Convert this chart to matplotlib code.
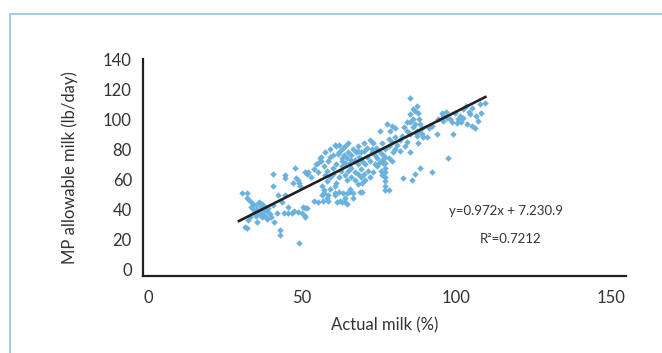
import numpy as np
import matplotlib
matplotlib.use("Agg")
import matplotlib.pyplot as plt
from matplotlib.patches import Rectangle

plt.rcParams['font.family'] = ['Lato', 'DejaVu Sans']

# actual milk (%) vs MP allowable milk (lb/day)
actual_milk = [
    # left cluster
    30.5, 32, 32, 33, 34, 33.5, 35, 35.5, 36, 36.5, 37, 37.5, 38, 38.5, 39, 34.5,
    35, 36, 37, 38, 39.5, 40, 32.5, 33, 31.5, 32, 35.4, 38.6, 41, 36, 34, 37,
    # 40-52
    40.6, 44.5, 44.5, 40.6, 42.2, 44.5, 43.5, 45.5, 40.6, 42, 44, 45.5, 46.8, 47.5,
    48.7, 50, 51, 50.3, 51.6, 51, 51, 42.9, 42.9, 49, 47.7, 48, 47, 48.7, 49.4, 49,
    51, 51.5, 52,
    # 52-62
    54, 55, 55, 55.8, 56, 57, 57.5, 58, 59, 56.5, 57, 59, 59, 60, 61.7, 59, 60.7,
    61, 62, 63, 58, 60, 61, 60, 62, 61, 60.5, 54, 55, 56.5, 56.8, 57, 58, 58.5,
    58.4, 60.7, 60.7, 61.4, 62, 62.3, 63, 64, 64, 64.6, 63.3, 64.6, 65.6, 66.6,
    66.6, 65.6, 68, 68.8, 69.5, 69.5, 54.5, 53, 56, 57.5, 58.5,
    # dense middle
    62, 63, 63.5, 64, 64.5, 65, 65, 65.5, 66, 66, 66.5, 67, 67, 67.5, 68, 68, 68.5,
    69, 69, 69.5, 70, 70, 70.5, 71, 71, 71.5, 72, 72, 72.5, 62.5, 63, 64, 64.5, 65,
    66, 67, 68, 69, 70, 70.5, 72, 73, 73, 63, 64, 66, 68,
    # 72-80
    74.4, 74.4, 75, 75.3, 73.5, 74, 75, 76, 76.3, 76, 77, 77, 77.6, 78, 78.6, 79,
    79.5, 80, 80.8, 77, 77, 77, 77, 77, 77, 77, 78, 72.5, 73.5, 76, 78, 79, 80, 78,
    80, 79, 75.5, 76,
    # 80-90
    81.8, 81.8, 82.5, 82.8, 84, 85, 85, 85.7, 86, 85, 86, 87, 87.3, 87.3, 86.7,
    87.7, 88.3, 89, 87.3, 85, 86.5, 88, 84, 85, 87.7, 89.3, 90.6, 88.3, 86.5, 83,
    84, 86, 88, 89, 83.5,
    # 90-110
    92.2, 92.2, 93.8, 95.5, 95.8, 97, 98, 95.8, 97.4, 99, 99.7, 100.3, 101.3, 102.3,
    102.3, 103, 103.6, 104.5, 105, 105, 106, 107, 107.8, 109.4, 104, 101.5, 100.5,
    98.5, 96.5, 94, 91, 106.5, 108,
]
mp_milk = [
    50.8, 51, 48, 46, 44, 42, 43, 40, 45, 42, 44, 40, 42, 39, 41, 38,
    36, 37, 35, 36, 37, 35, 33, 35, 28.4, 28, 31.7, 34, 31.7, 39, 40.5, 38,
    64, 63, 60.8, 56, 49.5, 49.5, 45, 42, 43, 37.6, 38, 37.6, 37.6, 39,
    38.3, 37.6, 41, 41.6, 41, 36, 35, 26.4, 23, 17.8, 67.4, 61, 58, 59.5, 56, 58,
    64.7, 64, 65,
    67, 65, 71, 74.6, 75, 69, 63, 59, 61.5, 56, 53, 54, 75, 76, 77, 80.6, 82.6,
    82.5, 83, 72.6, 66, 68, 70, 64, 62, 58, 56, 46, 45, 49.5, 46, 51, 47.5, 49.5,
    46, 49.5, 51, 45, 51.5, 46, 45, 47.5, 45, 44, 50.8, 51, 51.5, 51,
    48, 54, 57, 51.5, 51.5, 58, 70, 62, 72, 78, 72,
    78, 80, 76, 82, 74, 84, 78, 71, 76, 68, 80, 73, 65, 78, 70, 82, 75,
    67, 78, 72.6, 79, 84.5, 70, 81, 75, 66, 86, 72, 78, 66, 69, 63, 60, 66,
    62, 60, 64, 62, 64, 60, 62, 65, 84, 74, 71, 73, 79,
    74, 69, 79, 92.5, 76, 81, 71, 77, 70.7, 84, 80, 75, 97, 87, 92.5, 95.8,
    78, 94.5, 82.6, 71, 68, 65, 62, 59, 56, 53, 52.8, 80, 70, 73, 82, 85, 88, 74,
    80, 72, 66, 63,
    86, 79, 89, 60.8, 92.5, 103.7, 114, 59.4, 100, 98, 95, 91, 89, 109, 105.7,
    104, 97, 94.5, 92.5, 90, 97, 92, 85, 78, 84, 88, 88, 67.4, 64, 95,
    98, 107, 100, 90, 82,
    95.8, 64.7, 90.5, 104.4, 102.4, 101, 100.4, 99, 74.6, 90.5, 104.4, 97.8, 102.4, 101,
    107, 109, 97, 103.7, 107.6, 95.8, 94.5, 99, 110, 111, 105, 98, 100,
    98, 105, 100, 94, 102, 104,
]

# trend line as drawn in the picture
slope = 1.03
intercept = 2.1
x_ticks = [0, 50, 100, 150]
y_ticks = [0, 20, 40, 60, 80, 100, 120, 140]
eq_text = "y=0.972x + 7.230.9"
r2_text = "R²=0.7212"

txt = '#333333'

fig = plt.figure(figsize=(6.62, 3.53), dpi=100)
ax = fig.add_axes([143/662, 1 - 276/353, (626 - 143)/662, (276 - 59)/353])

# frame around the figure (only left and top edges visible)
fig.patches.append(Rectangle((10/662, -0.1), 1.2, 1.1 - 14/353, transform=fig.transFigure,
                             fill=False, edgecolor='#9cc5e8', linewidth=1.3))

ax.scatter(actual_milk, mp_milk, marker='D', s=11, color='#6ab2dd', linewidths=0, zorder=2)

xs = np.array([min(actual_milk) - 1, max(actual_milk)])
ax.plot(xs, slope * xs + intercept, color='#231f20', linewidth=1.9, zorder=3)

ax.set_xlim(-1.6, 155)
ax.set_ylim(-4, 140)
ax.set_xticks(x_ticks)
ax.set_yticks(y_ticks)
ax.tick_params(length=0, labelsize=12, labelcolor=txt, pad=8)
ax.tick_params(axis='x', pad=10)
for s in ['top', 'right']:
    ax.spines[s].set_visible(False)
for s in ['left', 'bottom']:
    ax.spines[s].set_linewidth(1.6)
    ax.spines[s].set_color('#231f20')

ax.set_xlabel("Actual milk (%)", fontsize=12, color=txt, labelpad=8)
ax.set_ylabel("MP allowable milk (lb/day)", fontsize=12, color=txt, labelpad=18)

ax.text(116, 39, eq_text, fontsize=9.5, color=txt, ha='center', va='center')
ax.text(117.5, 20.5, r2_text, fontsize=9.5, color=txt, ha='center', va='center')

fig.savefig("out.png", dpi=100)
